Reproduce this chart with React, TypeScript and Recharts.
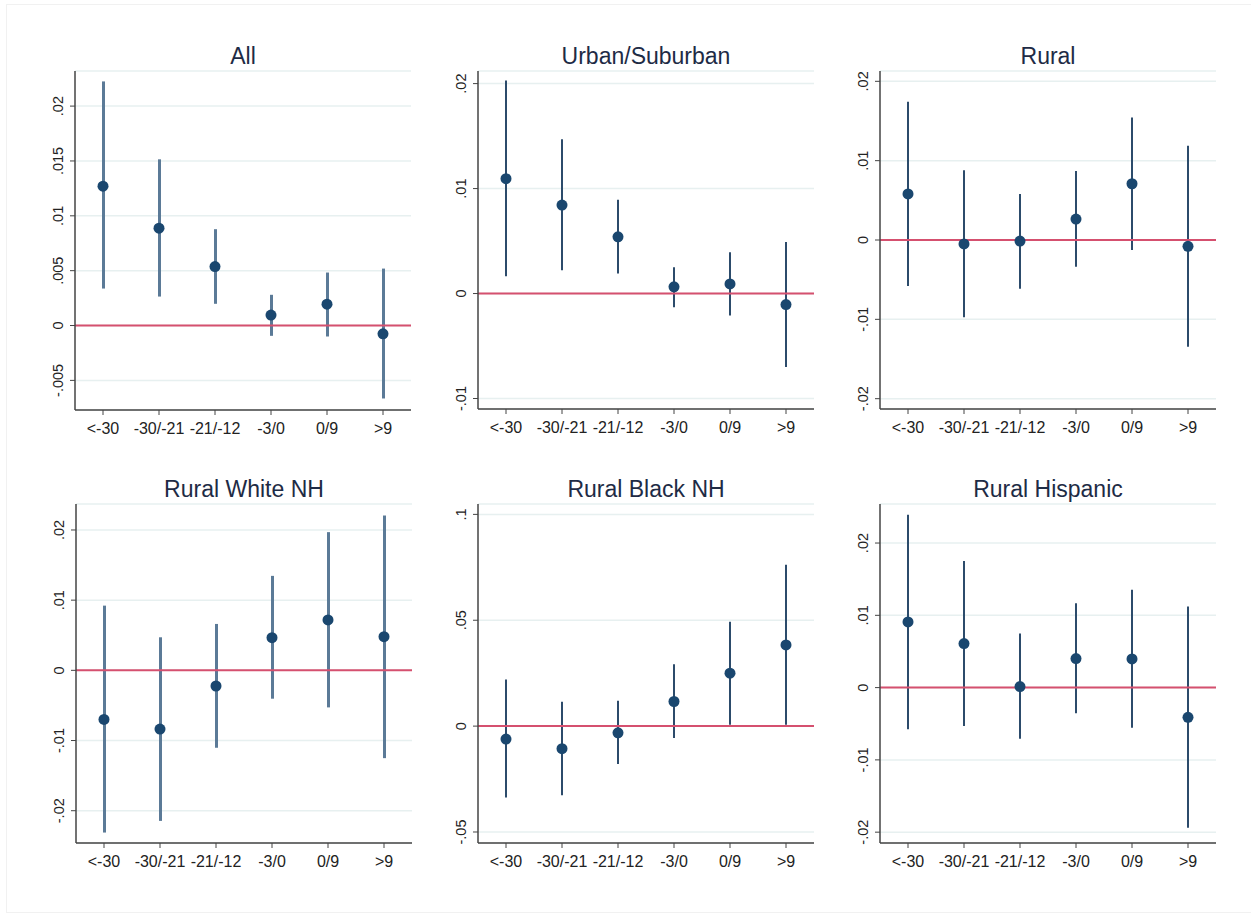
import React from "react";
import {
  ComposedChart,
  Bar,
  Scatter,
  XAxis,
  YAxis,
  CartesianGrid,
  ReferenceLine,
} from "recharts";

const categories = ["<-30", "-30/-21", "-21/-12", "-3/0", "0/9", ">9"];

// All
const allEst = [0.0127, 0.00887, 0.00537, 0.00095, 0.00195, -0.00076];
const allLo = [0.00337, 0.00264, 0.00198, -0.00094, -0.001, -0.00665];
const allHi = [0.02225, 0.01515, 0.00878, 0.0028, 0.00483, 0.00519];
const allTicks = [-0.005, 0, 0.005, 0.01, 0.015, 0.02];

// Urban/Suburban
const urbEst = [0.01094, 0.00843, 0.0054, 0.00064, 0.00092, -0.00105];
const urbLo = [0.00165, 0.00223, 0.00191, -0.0013, -0.0021, -0.007];
const urbHi = [0.0203, 0.0147, 0.00894, 0.00251, 0.00394, 0.0049];
const urbTicks = [-0.01, 0, 0.01, 0.02];

// Rural
const rurEst = [0.0058, -0.0005, -0.00013, 0.00264, 0.00709, -0.0008];
const rurLo = [-0.0058, -0.00974, -0.00613, -0.00336, -0.00126, -0.01344];
const rurHi = [0.01742, 0.00878, 0.0058, 0.00869, 0.01545, 0.01188];
const rurTicks = [-0.02, -0.01, 0, 0.01, 0.02];

// Rural White NH
const whEst = [-0.00699, -0.00837, -0.00223, 0.00466, 0.00718, 0.0048];
const whLo = [-0.02311, -0.02145, -0.01103, -0.00404, -0.00528, -0.01251];
const whHi = [0.00922, 0.00471, 0.00661, 0.01346, 0.01969, 0.02206];
const whTicks = [-0.02, -0.01, 0, 0.01, 0.02];

// Rural Black NH
const blEst = [-0.00613, -0.01068, -0.00314, 0.01162, 0.02498, 0.03833];
const blLo = [-0.03377, -0.03267, -0.01791, -0.00566, 0.00063, 0.00063];
const blHi = [0.022, 0.01147, 0.01194, 0.02922, 0.04932, 0.07619];
const blTicks = [-0.05, 0, 0.05, 0.1];

// Rural Hispanic
const hiEst = [0.00909, 0.00609, 0.00014, 0.00401, 0.00397, -0.00411];
const hiLo = [-0.00577, -0.00531, -0.00706, -0.00355, -0.00554, -0.01938];
const hiHi = [0.0239, 0.01753, 0.00747, 0.01167, 0.01352, 0.01121];
const hiTicks = [-0.02, -0.01, 0, 0.01, 0.02];

const titles = [
  "All",
  "Urban/Suburban",
  "Rural",
  "Rural White NH",
  "Rural Black NH",
  "Rural Hispanic",
];

type PanelSpec = {
  title: string;
  est: number[];
  lo: number[];
  hi: number[];
  ticks: number[];
  domain: [number, number];
  x: number;
  y: number;
  w: number;
  h: number;
  ciColor: string;
  ciWidth: number;
};

const panels: PanelSpec[] = [
  { title: titles[0], est: allEst, lo: allLo, hi: allHi, ticks: allTicks, domain: [-0.0077, 0.0232], x: 75, y: 71, w: 336, h: 339, ciColor: "#5b7a97", ciWidth: 3 },
  { title: titles[1], est: urbEst, lo: urbLo, hi: urbHi, ticks: urbTicks, domain: [-0.011, 0.0212], x: 478, y: 71, w: 336, h: 338, ciColor: "#2c4b6b", ciWidth: 2 },
  { title: titles[2], est: rurEst, lo: rurLo, hi: rurHi, ticks: rurTicks, domain: [-0.0213, 0.0213], x: 880, y: 71, w: 336, h: 338, ciColor: "#2c4b6b", ciWidth: 2 },
  { title: titles[3], est: whEst, lo: whLo, hi: whHi, ticks: whTicks, domain: [-0.0246, 0.0237], x: 76, y: 504, w: 336, h: 339, ciColor: "#5b7a97", ciWidth: 3 },
  { title: titles[4], est: blEst, lo: blLo, hi: blHi, ticks: blTicks, domain: [-0.0552, 0.1049], x: 478, y: 504, w: 336, h: 339, ciColor: "#2c4b6b", ciWidth: 2 },
  { title: titles[5], est: hiEst, lo: hiLo, hi: hiHi, ticks: hiTicks, domain: [-0.0215, 0.0254], x: 880, y: 504, w: 336, h: 339, ciColor: "#2c4b6b", ciWidth: 2 },
];

const fmt = (v: number) => {
  if (Math.abs(v) < 1e-12) return "0";
  return String(Number(v.toPrecision(6))).replace(/^(-?)0\./, "$1.");
};

const YTick = (props: any) => {
  const { x, y, payload } = props;
  const bx = x - 5;
  return (
    <text
      x={bx}
      y={y}
      transform={`rotate(-90 ${bx} ${y})`}
      textAnchor="middle"
      fontSize={14.5}
      fill="#222"
    >
      {fmt(payload.value)}
    </text>
  );
};

const Dot = (props: any) => {
  const { cx, cy } = props;
  if (cx == null || cy == null) return null;
  return <circle cx={cx} cy={cy} r={5.5} fill="#1a476f" />;
};

const AXIS = "#444";
const Y_W = 40;
const X_H = 30;
const LEFT_SPACE = 75;
const TOP_SPACE = 10;

function Panel({ p }: { p: PanelSpec }) {
  const data = categories.map((name, i) => ({
    name,
    est: p.est[i],
    ci: [p.lo[i], p.hi[i]],
  }));
  const width = p.w + LEFT_SPACE + 15;
  const height = p.h + TOP_SPACE + X_H + 10;
  return (
    <>
      <div
        style={{
          position: "absolute",
          left: p.x,
          top: p.y - 29,
          width: p.w,
          textAlign: "center",
          fontSize: 23,
          color: "#1e2b45",
          lineHeight: "28px",
          whiteSpace: "nowrap",
        }}
      >
        {p.title}
      </div>
      <div
        style={{
          position: "absolute",
          left: p.x - LEFT_SPACE,
          top: p.y - TOP_SPACE,
        }}
      >
        <ComposedChart
          width={width}
          height={height}
          data={data}
          margin={{ top: TOP_SPACE, left: LEFT_SPACE - Y_W, right: 15, bottom: 10 }}
          barCategoryGap={0}
        >
          <CartesianGrid horizontal vertical={false} stroke="#e7f0f0" strokeWidth={1.5} />
          <XAxis
            dataKey="name"
            type="category"
            height={X_H}
            tickSize={5}
            tickMargin={8}
            axisLine={{ stroke: AXIS, strokeWidth: 1.5 }}
            tickLine={{ stroke: AXIS }}
            tick={{ fontSize: 16, fill: "#222" }}
            interval={0}
          />
          <YAxis
            type="number"
            domain={p.domain}
            ticks={p.ticks}
            allowDataOverflow
            width={Y_W}
            tickSize={5}
            tickMargin={2}
            axisLine={{ stroke: AXIS, strokeWidth: 1.5 }}
            tickLine={{ stroke: AXIS }}
            tick={<YTick />}
            interval={0}
          />
          <ReferenceLine y={0} stroke="#d5506f" strokeWidth={2} />
          <Bar
            dataKey="ci"
            barSize={p.ciWidth}
            fill={p.ciColor}
            isAnimationActive={false}
          />
          <Scatter dataKey="est" shape={<Dot />} isAnimationActive={false} />
        </ComposedChart>
      </div>
    </>
  );
}

export default function App() {
  return (
    <div
      style={{
        position: "absolute",
        left: 0,
        top: 0,
        width: 1251,
        height: 913,
        background: "#fff",
        fontFamily: "'Liberation Sans', Arial, sans-serif",
        overflow: "hidden",
      }}
    >
      <div
        style={{
          position: "absolute",
          left: 6,
          top: 4,
          width: 1250,
          height: 907,
          borderTop: "1px solid #f1f1f1",
          borderLeft: "1px solid #f1f1f1",
          borderBottom: "1px solid #f1f1f1",
        }}
      />
      {panels.map((p) => (
        <Panel key={p.title} p={p} />
      ))}
    </div>
  );
}
